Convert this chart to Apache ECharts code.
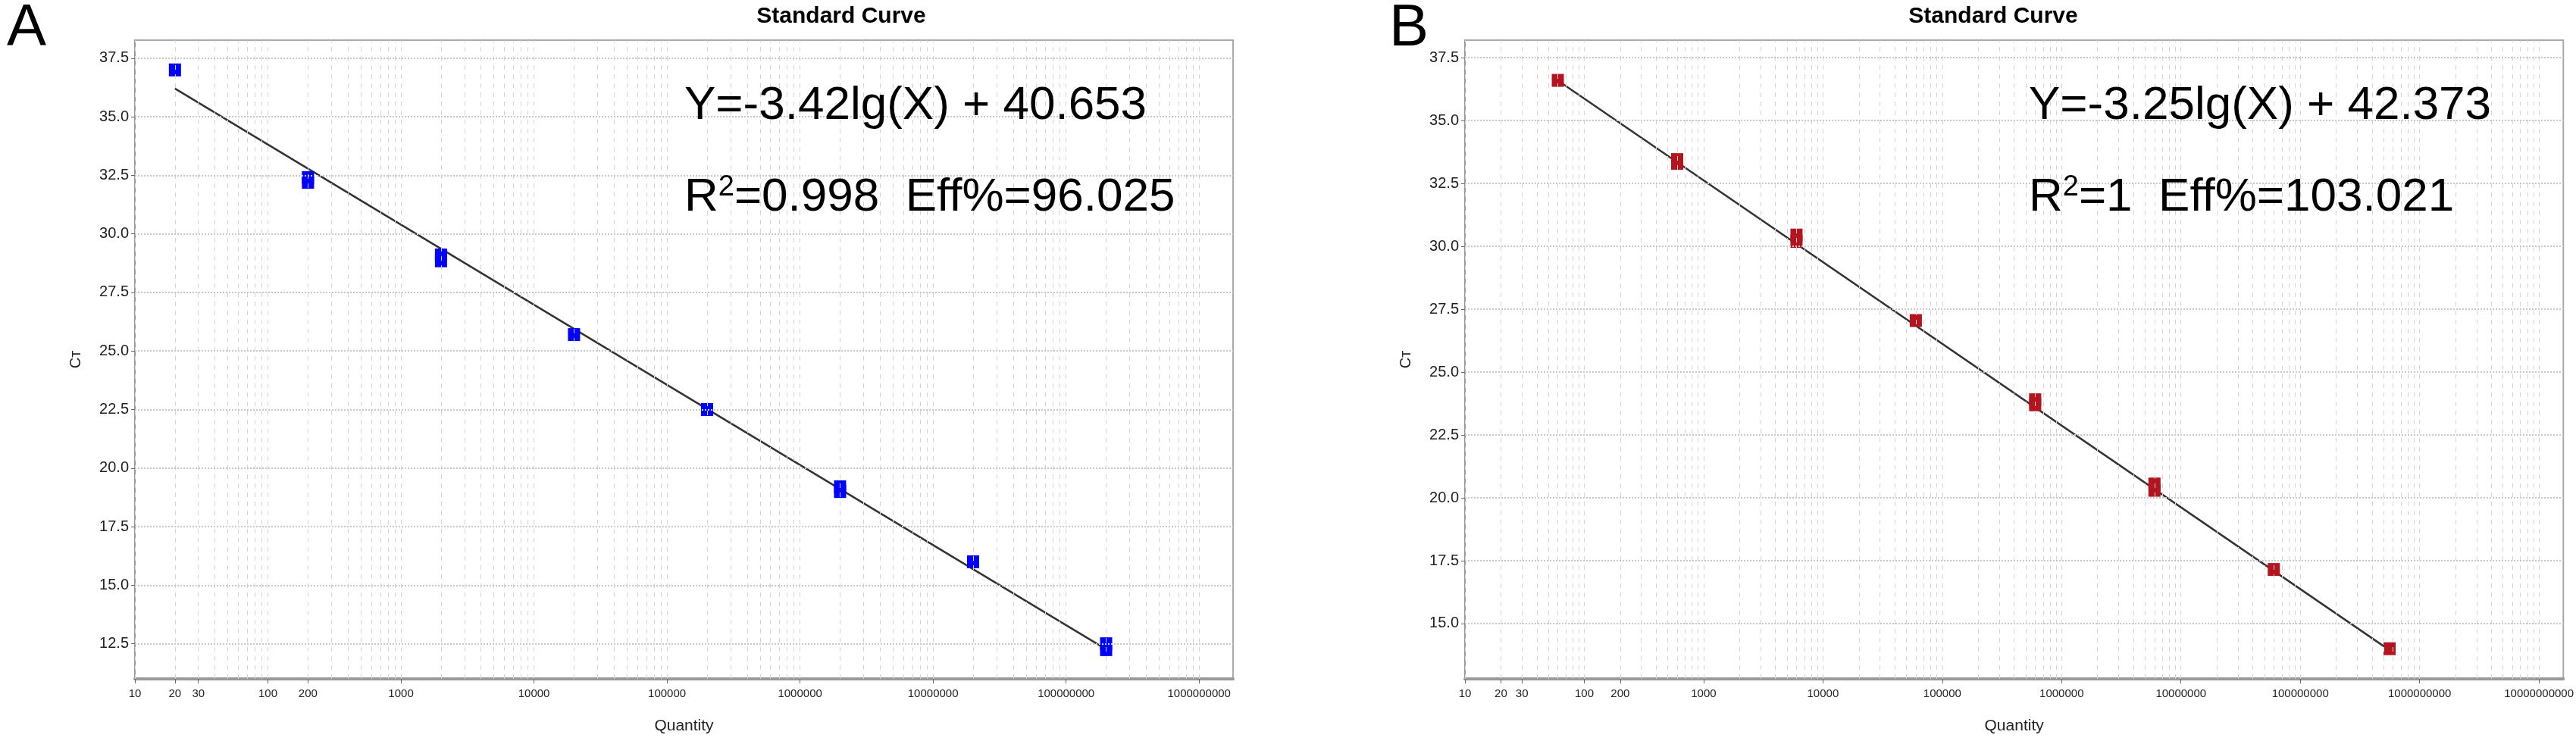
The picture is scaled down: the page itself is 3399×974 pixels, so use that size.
<!DOCTYPE html>
<html><head><meta charset="utf-8">
<script src="https://cdn.jsdelivr.net/npm/echarts@6/dist/echarts.min.js"></script>
<style>html,body{margin:0;background:#fff}#c{width:3399px;height:974px}</style>
</head><body><div id="c"></div>
<script>
// Panel A data
const qtyA = [20, 200, 200, 2000, 2000, 20000, 200000, 2000000, 2000000, 20000000, 200000000, 200000000];
const ctA  = [37.0, 32.2, 32.4, 28.85, 29.1, 25.7, 22.5, 19.0, 19.2, 16.0, 12.25, 12.5];
const fitA = [-3.42, 40.653]; // slope, intercept
const fitRangeA = [20, 200000000];
// Panel B data
const qtyB = [60, 600, 600, 6000, 6000, 60000, 600000, 600000, 6000000, 6000000, 60000000, 560000000];
const ctB  = [36.6, 33.3, 33.45, 30.2, 30.45, 27.05, 23.7, 23.9, 20.3, 20.55, 17.15, 14.0];
const fitB = [-3.25, 42.373];
const fitRangeB = [60, 560000000];
const xLabelValsA = [10,20,30,100,200,1000,10000,100000,1000000,10000000,100000000,1000000000];
const xLabelValsB = [10,20,30,100,200,1000,10000,100000,1000000,10000000,100000000,1000000000,10000000000];
const yTicksA = [12.5,15,17.5,20,22.5,25,27.5,30,32.5,35,37.5];
const yTicksB = [15,17.5,20,22.5,25,27.5,30,32.5,35,37.5];

function gridVals(maxExp){const v=[];for(let e=1;e<=maxExp;e++)for(let m=1;m<=9;m++)v.push(m*Math.pow(10,e));return v;}
function fitLine(f,r){return r.map(x=>[x,f[0]*Math.log10(x)+f[1]]);}
const font='"Liberation Sans Narrow","Liberation Sans",Arial,sans-serif';
function xAxis(i,max,labels){return {type:'log',gridIndex:i,min:10,max:max,logBase:10,
  name:'Quantity',nameLocation:'middle',nameGap:52,nameTextStyle:{fontFamily:font,fontSize:21,color:'#222'},
  axisLine:{lineStyle:{color:'#999',width:4}},
  axisTick:{customValues:labels,length:6,lineStyle:{color:'#666'}},
  axisLabel:{customValues:labels,fontFamily:font,fontSize:15,color:'#222',margin:12,formatter:v=>String(Math.round(v))},
  splitLine:{show:false}};}
function yAxis(i,min,max,ticks){return {type:'value',gridIndex:i,min:min,max:max,
  name:'Cт',nameLocation:'middle',nameGap:68,nameTextStyle:{fontFamily:font,fontSize:20,color:'#222'},
  axisLine:{show:true,lineStyle:{color:'#999',width:2}},
  axisTick:{show:true,customValues:ticks,length:5,lineStyle:{color:'#666'}},
  axisLabel:{customValues:ticks,fontFamily:font,fontSize:20,color:'#222',formatter:v=>v.toFixed(1)},
  splitLine:{show:false}};}
function vgrid(maxExp,ticks){return {silent:true,symbol:'none',label:{show:false},
  data:gridVals(maxExp).map(v=>({xAxis:v,lineStyle:{color:'#d4d4d4',type:[6,6],width:1}}))
   .concat(ticks.map(t=>({yAxis:t,lineStyle:{color:'#c8c8c8',type:'dotted',width:2}})))};}
const bigTxt={fontSize:62,fontWeight:'normal',fontFamily:'Liberation Sans',color:'#000'};
const opt={
 animation:false,
 title:[
  {text:'A',left:4,top:-6,textStyle:{fontSize:78,fontWeight:'normal',fontFamily:'Liberation Sans',color:'#000'}},
  {text:'B',left:1828,top:-6,textStyle:{fontSize:78,fontWeight:'normal',fontFamily:'Liberation Sans',color:'#000'}},
  {text:'Standard Curve',left:1105,top:2,textAlign:'center',textStyle:{fontSize:30,fontWeight:'bold',fontFamily:'Liberation Sans',color:'#000'}},
  {text:'Standard Curve',left:2625,top:2,textAlign:'center',textStyle:{fontSize:30,fontWeight:'bold',fontFamily:'Liberation Sans',color:'#000'}},
  {text:'Y=-3.42lg(X) + 40.653',left:898,top:104,textStyle:bigTxt},
  {text:'R{s|2}=0.998  Eff%=96.025',left:898,top:224,textStyle:Object.assign({rich:{s:{fontSize:38,color:'#000',verticalAlign:'top',padding:[0,0,26,0]}}},bigTxt)},
  {text:'Y=-3.25lg(X) + 42.373',left:2672,top:104,textStyle:bigTxt},
  {text:'R{s|2}=1  Eff%=103.021',left:2672,top:224,textStyle:Object.assign({rich:{s:{fontSize:38,color:'#000',verticalAlign:'top',padding:[0,0,26,0]}}},bigTxt)}
 ],
 grid:[{left:178,top:53,width:1449,height:853,show:true,borderColor:'#aaa',borderWidth:2},
       {left:1933,top:53,width:1453,height:847,show:true,borderColor:'#aaa',borderWidth:2}],
 xAxis:[xAxis(0,1.8e9,xLabelValsA),xAxis(1,1.6e10,xLabelValsB)],
 yAxis:[yAxis(0,11.0,38.27,yTicksA),yAxis(1,12.8,38.2,yTicksB)],
 series:[
  {type:'line',xAxisIndex:0,yAxisIndex:0,data:fitLine(fitA,fitRangeA),symbol:'none',lineStyle:{color:'#333',width:2.5},markLine:vgrid(9,yTicksA),z:3},
  {type:'scatter',xAxisIndex:0,yAxisIndex:0,data:qtyA.map((q,i)=>[q,ctA[i]]),symbol:'rect',symbolSize:[16,17],itemStyle:{color:'#0000ff',opacity:1},z:4},
  {type:'line',xAxisIndex:1,yAxisIndex:1,data:fitLine(fitB,fitRangeB),symbol:'none',lineStyle:{color:'#333',width:2.5},markLine:vgrid(10,yTicksB),z:3},
  {type:'scatter',xAxisIndex:1,yAxisIndex:1,data:qtyB.map((q,i)=>[q,ctB[i]]),symbol:'rect',symbolSize:[16,17],itemStyle:{color:'#b3141e',opacity:1},z:4}
 ]
};
echarts.init(document.getElementById('c')).setOption(opt);
</script></body></html>
